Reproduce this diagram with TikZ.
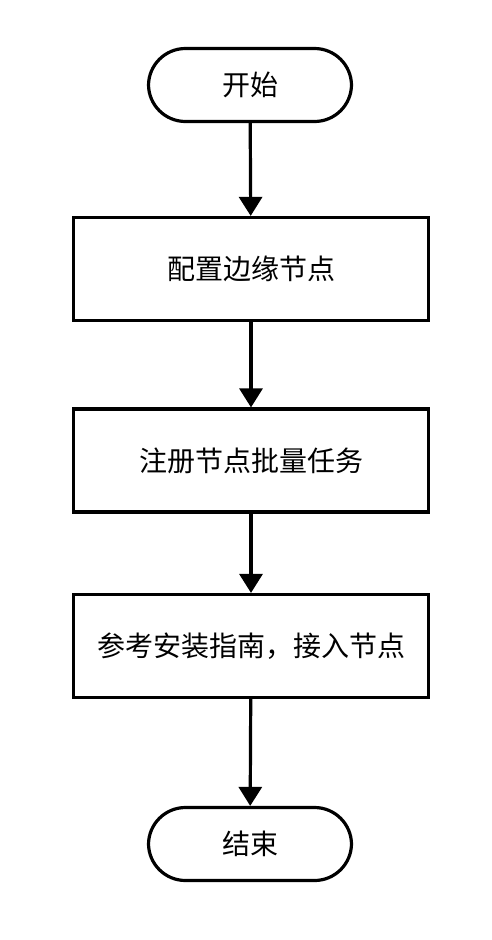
\documentclass[tikz,border=0pt]{standalone}
\usepackage{fontspec}
\newfontfamily\cjk{Noto Sans CJK SC}
\usetikzlibrary{arrows.meta}
\begin{document}
\begin{tikzpicture}[x=1pt,y=-1pt,
  every node/.style={font=\cjk\fontsize{28}{33}\selectfont, line width=3.2pt, draw=black, inner sep=0pt},
  term/.style={rectangle, rounded corners=37pt, minimum width=203pt, minimum height=73pt},
  proc/.style={rectangle, minimum width=355pt, minimum height=103pt},
  conn/.style={line width=3.2pt, -{Triangle[length=19pt,width=23pt]}}]
\useasboundingbox (0,0) rectangle (492,940);
\node[term] (start) at (250,85) {开始};
\node[proc] (n1) at (251,269) {配置边缘节点};
\node[proc] (n2) at (251,460.5) {注册节点批量任务};
\node[proc] (n3) at (251,646) {参考安装指南，接入节点};
\node[term] (end) at (250,844) {结束};
\draw[conn] (start) -- (n1);
\draw[conn] (n1) -- (n2);
\draw[conn] (n2) -- (n3);
\draw[conn] (n3) -- (end);
\end{tikzpicture}
\end{document}
